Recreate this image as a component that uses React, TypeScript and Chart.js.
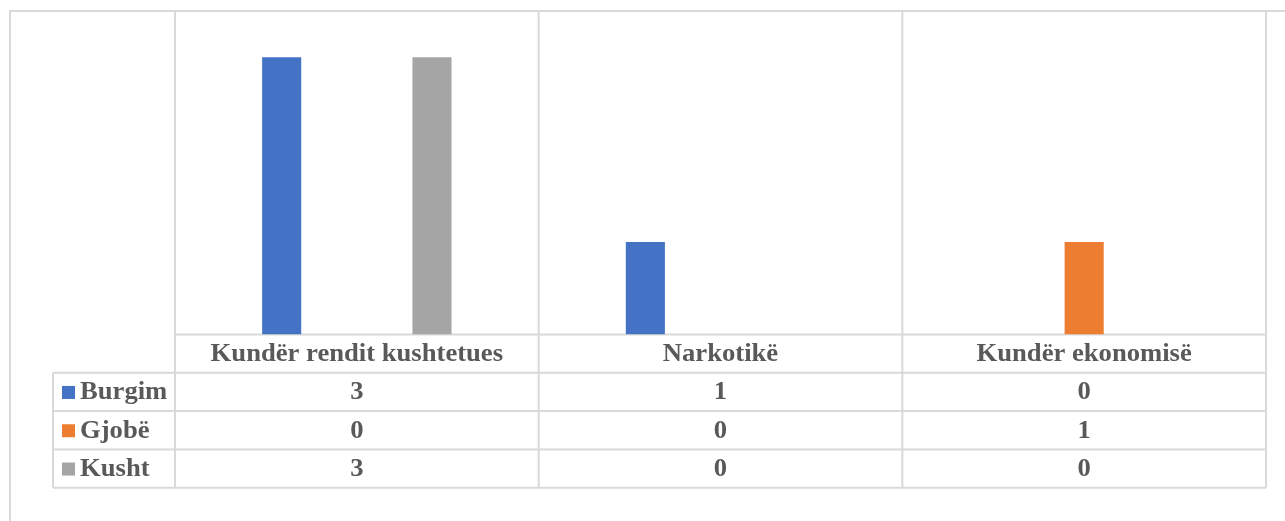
import React, { useEffect, useRef } from "react";
import { Chart, registerables } from "chart.js";

Chart.register(...registerables);

const categories = ["Kundër rendit kushtetues", "Narkotikë", "Kundër ekonomisë"];
const seriesNames = ["Burgim", "Gjobë", "Kusht"];
const burgim = [3, 1, 0];
const gjobe = [0, 0, 1];
const kusht = [3, 0, 0];
const seriesColors = ["#4472C4", "#ED7D31", "#A5A5A5"];

const LINE = "#D9D9D9";
const TEXT = "#595959";
const FONT = "bold 25px 'Liberation Serif', 'Times New Roman', serif";
const STRETCH = 1.065;

function stretchedText(ctx: CanvasRenderingContext2D, text: string, x: number, y: number) {
  ctx.save();
  ctx.translate(x, y);
  ctx.scale(STRETCH, 1);
  ctx.fillText(text, 0, 0);
  ctx.restore();
}

const tablePlugin = {
  id: "dataTable",
  beforeDatasetsDraw(chart: any) {
    const ctx = chart.ctx;
    const area = chart.chartArea;
    const x = chart.scales.x;
    const n = categories.length;
    const half = (x.getPixelForValue(1) - x.getPixelForValue(0)) / 2;
    const rowH = 38.3;
    const rows = seriesNames.length + 1;
    const bottom = area.bottom + rowH * rows;
    const tableLeft = 53;
    ctx.save();
    ctx.strokeStyle = LINE;
    ctx.lineWidth = 2;
    ctx.beginPath();
    ctx.moveTo(9, 11);
    ctx.lineTo(chart.width, 11);
    ctx.moveTo(10, 11);
    ctx.lineTo(10, chart.height);
    for (let i = 0; i <= n; i++) {
      const px = i < n ? x.getPixelForValue(i) - half : x.getPixelForValue(n - 1) + half;
      ctx.moveTo(px, area.top);
      ctx.lineTo(px, bottom);
    }
    ctx.moveTo(tableLeft, area.bottom + rowH);
    ctx.lineTo(tableLeft, bottom);
    const right = x.getPixelForValue(n - 1) + half;
    ctx.moveTo(area.left, area.bottom);
    ctx.lineTo(right, area.bottom);
    for (let r = 1; r <= rows; r++) {
      const py = area.bottom + rowH * r;
      ctx.moveTo(tableLeft, py);
      ctx.lineTo(right, py);
    }
    ctx.stroke();
    ctx.restore();
  },
  afterDraw(chart: any) {
    const ctx = chart.ctx;
    const area = chart.chartArea;
    const x = chart.scales.x;
    const rowH = 38.3;
    ctx.save();
    ctx.font = FONT;
    ctx.fillStyle = TEXT;
    ctx.textAlign = "center";
    ctx.textBaseline = "middle";
    categories.forEach((c, i) => {
      stretchedText(ctx, c, x.getPixelForValue(i), area.bottom + rowH / 2 + 1);
    });
    chart.data.datasets.forEach((ds: any, s: number) => {
      const cy = area.bottom + rowH * (s + 1) + rowH / 2 + 1;
      ctx.fillStyle = ds.backgroundColor;
      ctx.fillRect(62, cy - 7, 13, 13);
      ctx.fillStyle = TEXT;
      ctx.textAlign = "left";
      stretchedText(ctx, ds.label, 80, cy);
      ctx.textAlign = "center";
      ds.data.forEach((v: number, i: number) => {
        stretchedText(ctx, String(v), x.getPixelForValue(i), cy);
      });
    });
    ctx.restore();
  },
};

export default function App() {
  const ref = useRef<HTMLCanvasElement>(null);
  useEffect(() => {
    document.body.style.margin = "0";
    const chart = new Chart(ref.current as HTMLCanvasElement, {
      type: "bar",
      data: {
        labels: categories,
        datasets: [
          { label: seriesNames[0], data: burgim, backgroundColor: seriesColors[0] },
          { label: seriesNames[1], data: gjobe, backgroundColor: seriesColors[1] },
          { label: seriesNames[2], data: kusht, backgroundColor: seriesColors[2] },
        ],
      },
      options: {
        animation: false,
        responsive: false,
        layout: { padding: { left: 175, right: 19, top: 11, bottom: 186.5 } },
        datasets: { bar: { categoryPercentage: 0.62, barPercentage: 0.52 } },
        scales: {
          x: { display: false },
          y: { display: false, min: 0, max: 3.5 },
        },
        plugins: { legend: { display: false }, tooltip: { enabled: false } },
      },
      plugins: [tablePlugin],
    });
    return () => chart.destroy();
  }, []);
  return (
    <div style={{ width: 1285, height: 521, background: "#fff" }}>
      <canvas ref={ref} width={1285} height={521} />
    </div>
  );
}
